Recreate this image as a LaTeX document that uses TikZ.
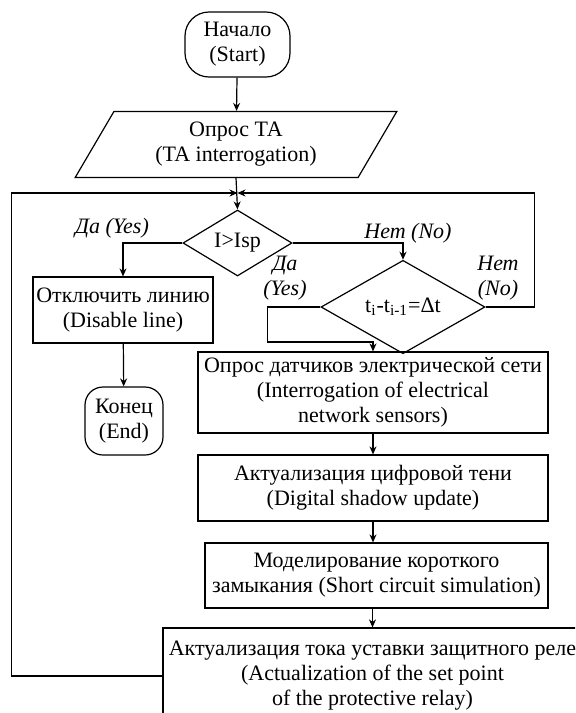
\documentclass[tikz,border=0pt]{standalone}
\usepackage{fontspec}
\setmainfont{Liberation Serif}
\usetikzlibrary{positioning, arrows.meta, shapes.geometric}
\tikzset{
  node distance=1cm and 1.5cm,
  every node/.style={
      font=\fontsize{11}{12.5}\selectfont
    },
  term/.style={
      rectangle,
      draw,
      line width=0.6pt,
      rounded corners=12pt,
      align=center,
      inner sep=0pt
    },
  io/.style={
      trapezium,
      trapezium left angle=60,
      trapezium right angle=120,
      trapezium stretches=true,
      draw,
      line width=0.6pt,
      align=center,
      inner sep=0pt
    },
  dec/.style={
      diamond,
      draw,
      line width=0.6pt,
      inner sep=0pt
    },
  proc/.style={
      rectangle,
      draw,
      line width=0.6pt,
      align=center,
      inner sep=0pt
    },
  lbl/.style={
      font=\fontsize{11}{12.5}\selectfont\itshape,
      align=center,
      inner sep=0pt
    },
  arr/.style={
      -{Stealth[length=4pt,width=3.5pt]},
      line width=0.6pt
    }
}

\begin{document}
\begin{tikzpicture}[x=0.5pt,y=-0.5pt]
  \useasboundingbox (0,0) rectangle (575,713);
  \clip (0,0) rectangle (575,713);
  % main column
  \node[term, minimum width=52.5pt, minimum height=32.5pt] (start) at (237.5,44.5) {Начало\\(Start)};
  \node[io, minimum width=161pt, minimum height=33pt] (poll) at (236,144.5) {Опрос ТА\\(TA interrogation)};
  \coordinate (join) at (237.5,193);
  \node[dec, minimum width=54.5pt, minimum height=33pt] (cmp) at (237.5,243) {I>Isp};
  % left branch
  \node[proc, minimum width=90pt, minimum height=33pt] (off) at (123,310) {Отключить линию\\(Disable line)};
  \node[term, rounded corners=9pt, minimum width=39pt, minimum height=34pt] (fin) at (124,421) {Конец\\(End)};
  % right branch
  \node[dec, minimum width=82pt, minimum height=32pt] (tick) at (403,307) {t\textsubscript{i}-t\textsubscript{i-1}=Δt};
  \node[proc, minimum width=175pt, minimum height=40.5pt] (sens) at (373,392.5) {Опрос датчиков электрической сети\\(Interrogation of electrical\\network sensors)};
  \node[proc, minimum width=175pt, minimum height=33pt] (shadow) at (373,488) {Актуализация цифровой тени\\(Digital shadow update)};
  \node[proc, minimum width=171.5pt, minimum height=32.5pt] (sim) at (376.5,575.5) {Моделирование короткого\\замыкания (Short circuit simulation)};
  \node[proc, minimum width=209.5pt, minimum height=48pt] (relay) at (372.5,676) {Актуализация тока уставки защитного реле\\(Actualization of the set point\\of the protective relay)};
  % labels
  \node[lbl] (yes1) at (112,228) {Да (Yes)};
  \node[lbl] (no1) at (408,233) {Нет (No)};
  \node[lbl] (yes2) at (285,278) {Да\\(Yes)};
  \node[lbl] (no2) at (498,278) {Нет\\(No)};
  % connectors
  \draw[arr] (start) -- (poll);
  \draw[arr] (poll.south) -- (cmp.north);
  \draw[arr] (cmp.west) -| (off.north);
  \draw[arr] (off) -- (fin);
  \draw[arr] (cmp.east) -| (tick.north);
  \draw[arr] (tick.east) -- ++(49,0) |- (join);
  \draw[arr] (tick.west) -- ++(-53,0) -- ++(0,35) -| (sens.north);
  \draw[arr] (sens) -- (shadow);
  \draw[arr] (shadow.south) -- (shadow.south |- sim.north);
  \draw[arr] (sim.south -| relay.north) -- (relay.north);
  \draw[arr] (relay.west) -- ++(-151,0) |- (join);
\end{tikzpicture}
\end{document}
